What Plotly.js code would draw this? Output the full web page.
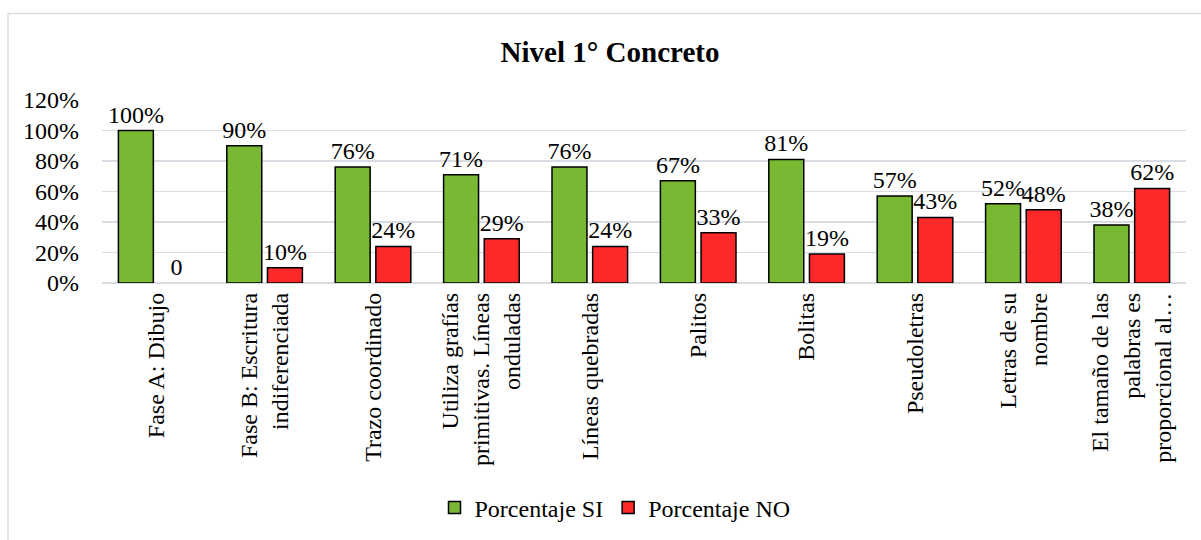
<!DOCTYPE html>
<html>
<head>
<meta charset="utf-8">
<script src="https://cdn.plot.ly/plotly-3.0.1.min.js"></script>
<style>html,body{margin:0;padding:0;background:#fff;}#chart{width:1201px;height:540px;}</style>
</head>
<body>
<div id="chart"></div>
<script>
const categories = [
  "Fase A: Dibujo",
  "Fase B: Escritura<br>indiferenciada",
  "Trazo coordinado",
  "Utiliza grafías<br>primitivas. Líneas<br>onduladas",
  "Líneas quebradas",
  "Palitos",
  "Bolitas",
  "Pseudoletras",
  "Letras de su<br>nombre",
  "El tamaño de las<br>palabras es<br>proporcional al…"
];
const porcentajeSI = [1.00, 0.90, 0.76, 0.71, 0.76, 0.67, 0.81, 0.57, 0.52, 0.38];
const porcentajeNO = [0.00, 0.10, 0.24, 0.29, 0.24, 0.33, 0.19, 0.43, 0.48, 0.62];
const labelsSI = ["100%", "90%", "76%", "71%", "76%", "67%", "81%", "57%", "52%", "38%"];
const labelsNO = ["0", "10%", "24%", "29%", "24%", "33%", "19%", "43%", "48%", "62%"];
const yTickVals = [0, 0.2, 0.4, 0.6, 0.8, 1.0, 1.2];
const yTickText = ["0%", "20%", "40%", "60%", "80%", "100%", "120%"];

const FONT = "Liberation Serif, Times New Roman, serif";
const FS = 24;
const GREEN = "#78B832", RED = "#FF2929";

const traces = [
  {
    type: "bar", name: "Porcentaje SI", x: categories, y: porcentajeSI, offsetgroup: "si",
    text: labelsSI, textposition: "outside", cliponaxis: false, constraintext: "none",
    textfont: {family: FONT, size: FS, color: "#000"},
    marker: {color: GREEN, line: {color: "#000", width: 1.5}},
    hoverinfo: "skip"
  },
  {
    type: "bar", name: "Porcentaje NO", x: categories, y: porcentajeNO, offsetgroup: "no",
    text: labelsNO, textposition: "outside", cliponaxis: false, constraintext: "none",
    textfont: {family: FONT, size: FS, color: "#000"},
    marker: {color: RED, line: {color: "#000", width: porcentajeNO.map(v => v > 0 ? 1.5 : 0)}},
    showlegend: false, legendgroup: "no",
    hoverinfo: "skip"
  },
  {
    /* legend entry only (keeps the outlined swatch) */
    type: "bar", name: "Porcentaje NO", x: [categories[0]], y: [null], offsetgroup: "no",
    marker: {color: RED, line: {color: "#000", width: 1.5}},
    showlegend: true, legendgroup: "no", hoverinfo: "skip"
  }
];

const L = 102, R = 15, T = 100, B = 256;
const W = 1201 - L - R, H = 540 - T - B;
const px = v => (v - L) / W;
const py = v => (540 - B - v) / H;

const layout = {
  width: 1201, height: 540,
  margin: {l: L, r: R, t: T, b: B, pad: 0},
  paper_bgcolor: "#fff", plot_bgcolor: "#fff",
  font: {family: FONT, size: FS, color: "#000"},
  title: {
    text: "<b>Nivel 1° Concreto</b>",
    font: {family: FONT, size: 29, color: "#000"},
    x: 610 / 1201, xref: "container", xanchor: "center",
    y: 1 - 52 / 540, yref: "container", yanchor: "middle"
  },
  barmode: "group", bargap: 0.25, bargroupgap: 0.14,
  xaxis: {
    tickangle: -90, showgrid: false, zeroline: false, showline: false,
    ticks: "", ticklabelstandoff: 4,
    tickfont: {family: FONT, size: FS, color: "#000"}, automargin: false
  },
  yaxis: {
    range: [0, 1.2], tickvals: yTickVals, ticktext: yTickText,
    showgrid: true, gridcolor: "#D9DDE3", gridwidth: 1.5,
    zeroline: true, zerolinecolor: "#D9DDE3", zerolinewidth: 1.5,
    showline: false, ticks: "", ticklabelstandoff: 22,
    tickfont: {family: FONT, size: FS, color: "#000"}, automargin: false
  },
  showlegend: true,
  legend: {
    orientation: "h", x: px(615), xanchor: "center", y: py(508), yanchor: "middle",
    font: {family: FONT, size: FS, color: "#000"}, itemclick: false, bgcolor: "rgba(0,0,0,0)",
    traceorder: "normal"
  },
  shapes: [{
    type: "rect", xref: "paper", yref: "paper",
    x0: px(8), x1: px(1230), y0: py(600), y1: py(13),
    line: {color: "#D9DDE3", width: 1.5}, fillcolor: "rgba(0,0,0,0)", layer: "below"
  }]
};

Plotly.newPlot("chart", traces, layout, {staticPlot: true, displayModeBar: false});
</script>
</body>
</html>
